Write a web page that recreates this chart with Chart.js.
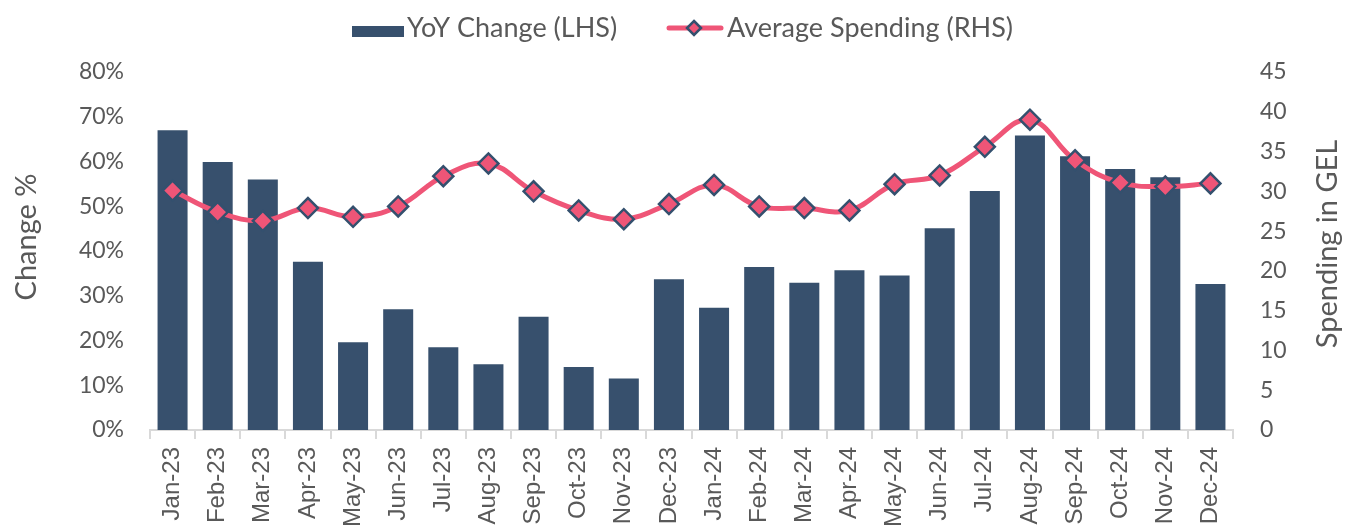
<!DOCTYPE html>
<html><head><meta charset="utf-8">
<script src="https://cdn.jsdelivr.net/npm/chart.js@4.4.1/dist/chart.umd.min.js"></script>
<style>html,body{margin:0;padding:0;background:#fff;overflow:hidden;}</style>
</head><body>
<canvas id="c" width="1358" height="532"></canvas>
<script>
const categories = ['Jan-23','Feb-23','Mar-23','Apr-23','May-23','Jun-23','Jul-23','Aug-23','Sep-23','Oct-23','Nov-23','Dec-23',
  'Jan-24','Feb-24','Mar-24','Apr-24','May-24','Jun-24','Jul-24','Aug-24','Sep-24','Oct-24','Nov-24','Dec-24'];
const yoyChange = [67.0, 59.9, 56.0, 37.6, 19.6, 27.0, 18.5, 14.7, 25.3, 14.1, 11.5, 33.7,
  27.3, 36.4, 32.9, 35.7, 34.5, 45.1, 53.4, 65.8, 61.2, 58.3, 56.5, 32.6];
const avgSpending = [30.1, 27.4, 26.3, 27.9, 26.8, 28.1, 31.9, 33.5, 30.0, 27.6, 26.5, 28.4,
  30.8, 28.1, 27.9, 27.6, 30.9, 32.0, 35.6, 39.0, 33.9, 31.1, 30.6, 31.0];
const leftAxis = {min: 0, max: 80, step: 10, suffix: '%', title: 'Change %'};
const rightAxis = {min: 0, max: 45, step: 5, title: 'Spending in GEL'};
const seriesNames = ['YoY Change (LHS)', 'Average Spending (RHS)'];

const BAR = '#37506D', PINK = '#EF5577', EDGE = '#34506E', TXT = '#595959';

const customDraw = {
  id: 'customDraw',
  afterDraw(chart) {
    const ctx = chart.ctx;
    ctx.save();
    // legend
    ctx.fillStyle = BAR;
    ctx.fillRect(352, 26, 52, 11);
    ctx.font = '27px Lato';
    ctx.fillStyle = TXT;
    ctx.textAlign = 'left';
    ctx.textBaseline = 'alphabetic';
    ctx.fillText(seriesNames[0], 407, 37);
    ctx.strokeStyle = PINK; ctx.lineWidth = 5; ctx.lineCap = 'round';
    ctx.beginPath(); ctx.moveTo(669, 28); ctx.lineTo(721, 28); ctx.stroke();
    ctx.beginPath();
    ctx.moveTo(694, 21); ctx.lineTo(701, 28); ctx.lineTo(694, 35); ctx.lineTo(687, 28); ctx.closePath();
    ctx.fillStyle = PINK; ctx.fill();
    ctx.strokeStyle = EDGE; ctx.lineWidth = 2.5; ctx.stroke();
    ctx.fillStyle = TXT;
    ctx.fillText(seriesNames[1], 727, 37);
    // axis titles
    ctx.font = '29px Lato';
    ctx.textAlign = 'center'; ctx.textBaseline = 'middle';
    ctx.save(); ctx.translate(27, 237); ctx.rotate(-Math.PI / 2); ctx.fillText(leftAxis.title, 0, 0); ctx.restore();
    ctx.save(); ctx.translate(1328, 244); ctx.rotate(-Math.PI / 2); ctx.fillText(rightAxis.title, 0, 0); ctx.restore();
    ctx.restore();
  }
};

new Chart(document.getElementById('c'), {
  data: {
    labels: categories,
    datasets: [
      {
        type: 'line', label: seriesNames[1], data: avgSpending, yAxisID: 'y1', order: 0,
        borderColor: PINK, borderWidth: 5, tension: 0.4,
        pointStyle: 'rectRot', pointRadius: 10, pointBackgroundColor: PINK,
        pointBorderColor: EDGE, pointBorderWidth: 2.5
      },
      {
        type: 'bar', label: seriesNames[0], data: yoyChange, yAxisID: 'y', order: 1,
        backgroundColor: BAR, barPercentage: 0.665, categoryPercentage: 1.0
      }
    ]
  },
  options: {
    responsive: false, animation: false,
    layout: {padding: {top: 72, left: 0, right: 0, bottom: 0}},
    plugins: {legend: {display: false}, tooltip: {enabled: false}},
    scales: {
      x: {
        afterFit(s) { s.height = 102; },
        grid: {display: true, drawOnChartArea: false, drawTicks: true, tickLength: 9, color: '#D9D9D9', lineWidth: 2, offset: true},
        border: {display: true, color: '#D9D9D9', width: 2},
        ticks: {autoSkip: false, minRotation: 90, maxRotation: 90, padding: 8, color: TXT,
          font: {family: 'Liberation Sans', size: 24}}
      },
      y: {
        position: 'left', min: leftAxis.min, max: leftAxis.max,
        afterFit(s) { s.width = 150; },
        grid: {display: false, drawTicks: false},
        border: {display: false},
        ticks: {stepSize: leftAxis.step, padding: 26, color: TXT, font: {family: 'Lato', size: 23},
          callback: v => v + leftAxis.suffix}
      },
      y1: {
        position: 'right', min: rightAxis.min, max: rightAxis.max,
        afterFit(s) { s.width = 125; },
        grid: {display: false, drawTicks: false},
        border: {display: false},
        ticks: {stepSize: rightAxis.step, padding: 27, color: TXT, font: {family: 'Lato', size: 23}}
      }
    }
  },
  plugins: [customDraw]
});
</script>
</body></html>
